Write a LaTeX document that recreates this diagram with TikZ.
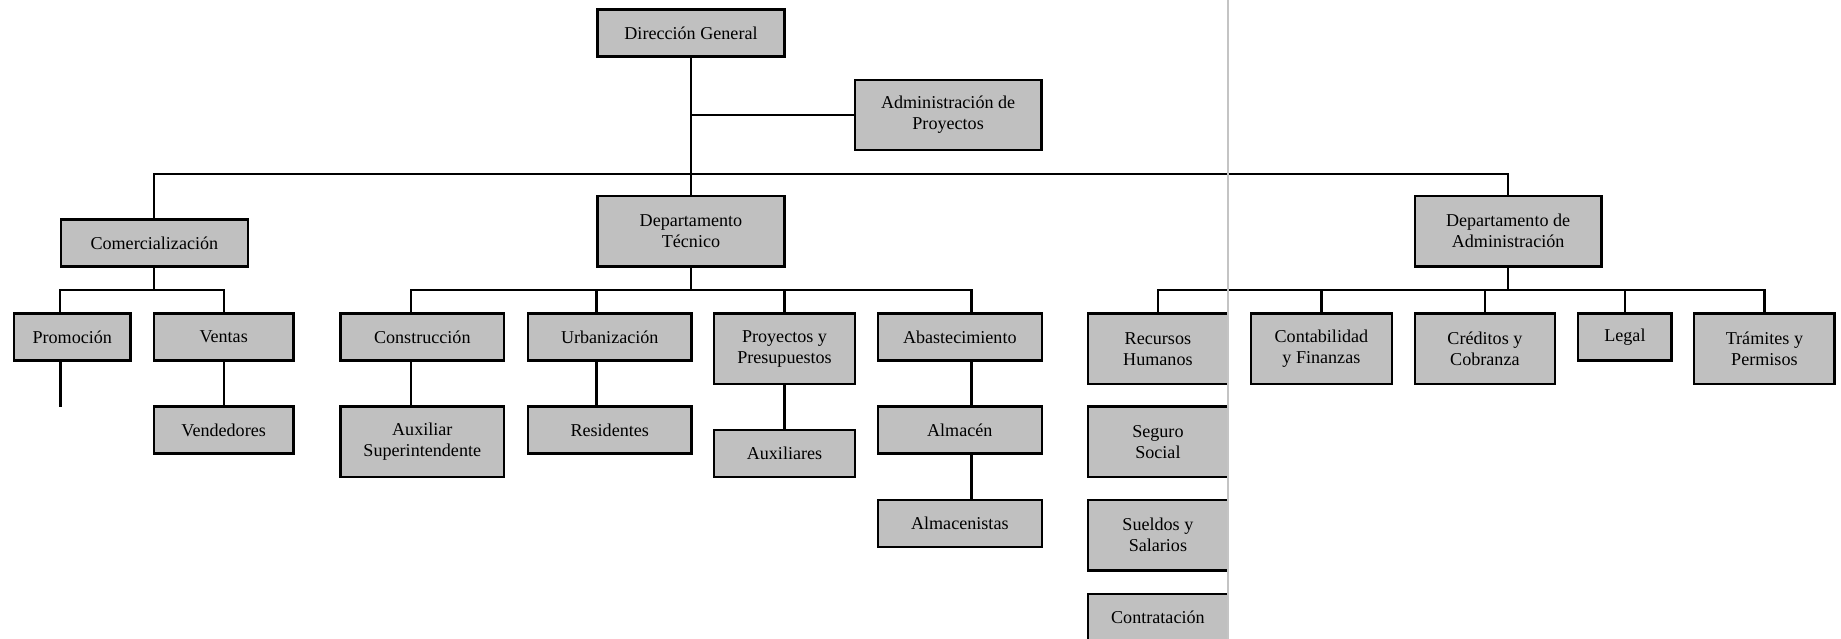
\documentclass[tikz,border=0pt]{standalone}
\usepackage{fontspec}
\setmainfont{Liberation Serif}
\definecolor{boxgray}{RGB}{192,192,192}
\definecolor{rulegray}{RGB}{196,196,196}
\begin{document}
\begin{tikzpicture}[x=1pt,y=-1pt,
  box/.style={draw=black, fill=boxgray, line width=2.4pt, align=center, inner sep=0pt,
    font=\fontsize{18.1}{21}\selectfont},
  wh/.style 2 args={minimum width=#1pt, minimum height=#2pt},
  link/.style={draw=black, line width=2.2pt, line join=miter}]
\useasboundingbox (0,0) rectangle (1841,639);

% bus levels
\coordinate (topbus) at (0,173.8);
\coordinate (subbus) at (0,290);
\coordinate (cx) at (411,290);
\coordinate (ax) at (971.5,290);
\coordinate (promend) at (60.5,407);

% top management
\node[box, wh={186.7}{47}] (dg) at (691,33) {Dirección General};
\node[box, wh={186.7}{70.5}] (ap) at (948.1,115) {Administración de\\Proyectos};

% departments
\node[box, wh={186.7}{47}] (com) at (154.35,243) {Comercialización};
\node[box, wh={186.7}{70.5}] (dt) at (691,231.3) {Departamento\\Técnico};
\node[box, wh={186.7}{70.5}] (da) at (1508.1,231.3) {Departamento de\\Administración};

% sales
\node[box, wh={116.5}{47}] (prom) at (72.25,337) {Promoción};
\node[box, wh={139.7}{47}] (ven) at (223.65,337) {Ventas};
\node[box, wh={139.7}{47}] (vend) at (223.65,430) {Vendedores};

% technical
\node[box, wh={163.4}{47}] (cons) at (422.3,337) {Construcción};
\node[box, wh={163.4}{70.5}] (aux) at (422.3,441.75) {Auxiliar\\Superintendente};
\node[box, wh={163.5}{47}] (urb) at (609.75,337) {Urbanización};
\node[box, wh={163.5}{47}] (res) at (609.75,430) {Residentes};
\node[box, wh={141}{70.5}] (proy) at (784.5,348.75) {Proyectos y\\Presupuestos};
\node[box, wh={141}{47}] (auxs) at (784.5,453.5) {Auxiliares};
\node[box, wh={164}{47}] (ab) at (959.8,337) {Abastecimiento};
\node[box, wh={164}{47}] (alm) at (959.8,430) {Almacén};
\node[box, wh={164}{47}] (alms) at (959.8,523.5) {Almacenistas};

% administration
\node[box, wh={140.2}{70.5}] (rh) at (1157.9,348.75) {Recursos\\Humanos};
\node[box, wh={140.2}{70.5}] (ss) at (1157.9,441.75) {Seguro\\Social};
\node[box, wh={140.2}{70.5}] (sue) at (1157.9,535.25) {Sueldos y\\Salarios};
\node[box, wh={140.2}{47}] (con) at (1157.9,617.5) {Contratación};
\node[box, wh={141.2}{70.5}] (cf) at (1321.4,348.75) {Contabilidad\\y Finanzas};
\node[box, wh={140.2}{70.5}] (cc) at (1484.9,348.75) {Créditos y\\Cobranza};
\node[box, wh={93.3}{47}] (lg) at (1624.9,337) {Legal};
\node[box, wh={140.3}{70.5}] (tp) at (1764.4,348.75) {Trámites y\\Permisos};

% top level links
\draw[link] (dg.south) -- (dt.north);
\draw[link] (dg.south |- ap.west) -- (ap.west);
\draw[link] (com.north) -- (com.north |- topbus) -- (da.north |- topbus) -- (da.north);

% sales links
\draw[link] (com.south) -- (com.south |- subbus);
\draw[link] (com.west |- prom.north) -- (com.west |- subbus) -| (ven.north);
\draw[link] (promend |- prom.south) -- (promend);
\draw[link] (ven.south) -- (vend.north);

% technical links
\draw[link] (dt.south) -- (dt.south |- subbus);
\draw[link] (cons.north -| cx) -- (cx) -- (ax) -- (ab.north -| ax);
\draw[link] (dt.west |- subbus) -- (urb.north -| dt.west);
\draw[link] (proy.north |- subbus) -- (proy.north);
\draw[link] (cons.south -| cx) -- (aux.north -| cx);
\draw[link] (urb.south -| dt.west) -- (res.north -| dt.west);
\draw[link] (proy.south) -- (auxs.north);
\draw[link] (ab.south -| ax) -- (alm.north -| ax);
\draw[link] (alm.south -| ax) -- (alms.north -| ax);

% administration links
\draw[link] (da.south) -- (da.south |- subbus);
\draw[link] (rh.north) -- (rh.north |- subbus) -- (tp.north |- subbus) -- (tp.north);
\draw[link] (cf.north |- subbus) -- (cf.north);
\draw[link] (cc.north |- subbus) -- (cc.north);
\draw[link] (lg.north |- subbus) -- (lg.north);

% page edge rule
\draw[rulegray, line width=2pt] (1228.3,0) -- (1228.3,639);
\end{tikzpicture}
\end{document}
